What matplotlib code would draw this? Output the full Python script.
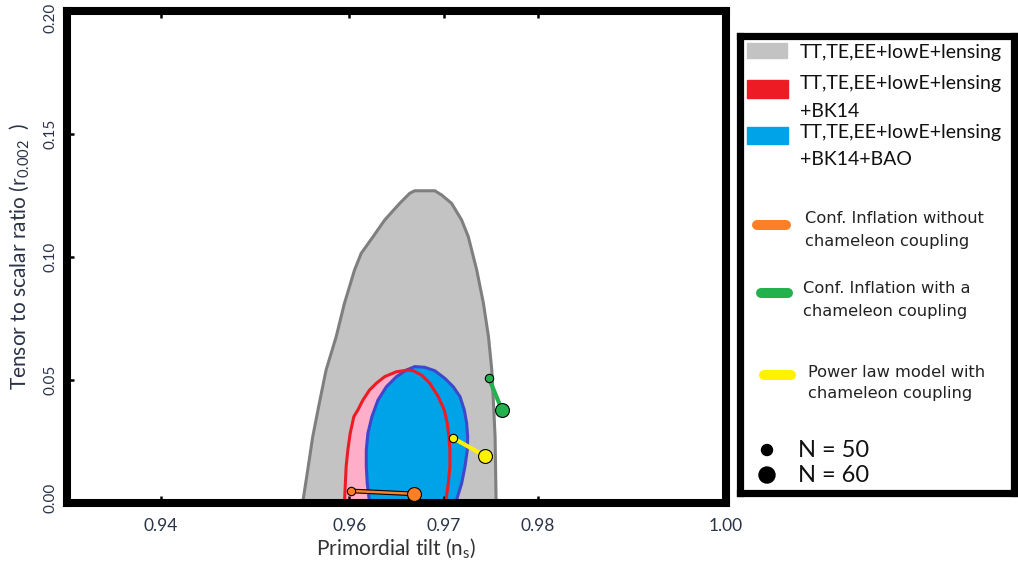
import matplotlib.pyplot as plt
import matplotlib.patheffects as pe
import matplotlib.transforms as mtransforms
from matplotlib.patches import Rectangle, Circle

plt.rcParams['font.family'] = ['Lato', 'DejaVu Sans']

# 68% / 95% contour outlines in the (n_s, r) plane
gray_ns = [0.95503, 0.95557, 0.9561, 0.9568, 0.95752, 0.95859, 0.95947, 0.96054,
           0.96125, 0.9625, 0.96374, 0.96534, 0.96641, 0.96694, 0.96907, 0.96979,
           0.97085, 0.97192, 0.97263, 0.97352, 0.97423, 0.97477, 0.97512, 0.9753,
           0.97547, 0.97558]
gray_r = [0.0, 0.0134, 0.0269, 0.0405, 0.0540, 0.0675, 0.0811, 0.0946,
          0.1014, 0.1081, 0.1149, 0.1217, 0.1258, 0.1268, 0.1268, 0.1251,
          0.1217, 0.1149, 0.1081, 0.0946, 0.0811, 0.0675, 0.0540, 0.0405,
          0.0269, 0.0]

red_ns = [0.95947, 0.95965, 0.95983, 0.96008, 0.96047, 0.9609, 0.96143, 0.96214,
          0.96285, 0.96374, 0.96499, 0.96623, 0.96677, 0.96765, 0.96854, 0.96943,
          0.97007, 0.97039, 0.97057, 0.97067, 0.97067, 0.9705, 0.97021]
red_r = [0.0, 0.0148, 0.0215, 0.0283, 0.0351, 0.0378, 0.0418, 0.0459,
         0.0486, 0.0513, 0.0533, 0.0540, 0.0537, 0.0520, 0.0486, 0.0432,
         0.0378, 0.0324, 0.0269, 0.0215, 0.0148, 0.0080, 0.0]

blue_ns = [0.96214, 0.96189, 0.96179, 0.96179, 0.96196, 0.96239, 0.96303, 0.96392,
           0.96499, 0.96605, 0.96694, 0.96801, 0.96907, 0.97014, 0.97103, 0.97174,
           0.9722, 0.97245, 0.97256, 0.97252, 0.97227, 0.97192, 0.97128]
blue_r = [0.0, 0.0080, 0.0148, 0.0215, 0.0283, 0.0351, 0.0418, 0.0472,
          0.0513, 0.0540, 0.0554, 0.0551, 0.0537, 0.0506, 0.0472, 0.0432,
          0.0378, 0.0324, 0.0269, 0.0215, 0.0148, 0.0080, 0.0]

# model predictions, N = 50 then N = 60
orange_ns = [0.9602, 0.9669]
orange_r = [0.0049, 0.0037]
green_ns = [0.9748, 0.9762]
green_r = [0.0508, 0.0378]
yellow_ns = [0.9710, 0.9744]
yellow_r = [0.0264, 0.0191]

xticks = [0.94, 0.96, 0.97, 0.98, 1.00]
yticks = [0.00, 0.05, 0.10, 0.15, 0.20]

GRAY, GRAY_EDGE = '#c3c3c3', '#7f7f7f'
PINK, RED = '#ffaec9', '#ed1c24'
BLUE, BLUE_EDGE = '#00a2e8', '#3f48cc'
ORANGE, GREEN, YELLOW = '#ff7f27', '#22b14c', '#fff200'
TXT = '#2a3348'

fig = plt.figure(figsize=(10.18, 5.69), dpi=100)
ax = fig.add_axes([0.0658, 0.116, 0.6474, 0.8655])

ax.fill(gray_ns, gray_r, color=GRAY, ec=GRAY_EDGE, lw=2.2)
ax.fill(red_ns, red_r, color=PINK, lw=0)
ax.fill(blue_ns, blue_r, color=BLUE, ec=BLUE_EDGE, lw=2.2)
ax.plot(red_ns, red_r, color=RED, lw=2.2)

outline = [pe.Stroke(linewidth=3.4, foreground='black'), pe.Normal()]
ax.plot(orange_ns, orange_r, color=ORANGE, lw=1.8, path_effects=outline, zorder=3)
ax.plot(green_ns, green_r, color=GREEN, lw=3, zorder=3)
ax.plot(yellow_ns, yellow_r, color=YELLOW, lw=3, zorder=3)
for ns, r, c in [(orange_ns, orange_r, ORANGE), (green_ns, green_r, GREEN),
                 (yellow_ns, yellow_r, YELLOW)]:
    ax.plot(ns[0], r[0], 'o', ms=6, mfc=c, mec='black', mew=0.8, zorder=4)
    ax.plot(ns[1], r[1], 'o', ms=10, mfc=c, mec='black', mew=0.8, zorder=4)

ax.set_xlim(0.93, 1.00)
ax.set_ylim(0.0, 0.20)
ax.set_xticks(xticks)
ax.set_xticklabels(['%.2f' % v for v in xticks])
ax.set_yticks(yticks)
ax.set_yticklabels(['%.2f' % v for v in yticks], rotation=90, va='center')
ax.tick_params(direction='in', length=5, width=1.8, color='black',
               labelcolor=TXT, top=True)
ax.tick_params(axis='x', labelsize=12.5, pad=11)
ax.tick_params(axis='y', labelsize=11, pad=7)
for s in ax.spines.values():
    s.set_linewidth(5.8)

# keep the end labels of the r axis inside the canvas
ylabs = ax.get_yticklabels()
ylabs[-1].set_transform(ylabs[-1].get_transform() +
                        mtransforms.ScaledTranslation(0, -5 / 72, fig.dpi_scale_trans))
ylabs[0].set_transform(ylabs[0].get_transform() +
                       mtransforms.ScaledTranslation(0, 4 / 72, fig.dpi_scale_trans))

ax.set_xlabel(r'Primordial tilt (n$_\mathregular{s}$)', fontsize=15,
              color='#333333', labelpad=2)
ax.set_ylabel(r'Tensor to scalar ratio (r$_\mathregular{0.002}$  )',
              fontsize=15, color=TXT, labelpad=8)

# legend panel drawn by hand, coordinates in pixels inside the box
lg = fig.add_axes([0.7274, 0.1344, 0.2682, 0.8032])
lg.set_xlim(0, 273)
lg.set_ylim(457, 0)
lg.set_xticks([])
lg.set_yticks([])
for s in lg.spines.values():
    s.set_linewidth(5.2)

lg.add_patch(Rectangle((6.5, 7.5), 40, 15, color=GRAY))
lg.add_patch(Rectangle((6.5, 44.5), 41, 18, color=RED))
lg.add_patch(Rectangle((6.5, 91.5), 41, 17, color=BLUE))
big = dict(fontsize=14, color='#111111', va='center', ha='left')
lg.text(59.5, 16.5, 'TT,TE,EE+lowE+lensing', **big)
lg.text(59.5, 47.5, 'TT,TE,EE+lowE+lensing', **big)
lg.text(59.5, 75.5, '+BK14', **big)
lg.text(59.5, 96.5, 'TT,TE,EE+lowE+lensing', **big)
lg.text(59.5, 123.5, '+BK14+BAO', **big)

small = dict(fontsize=11.7, color='#222222', va='center', ha='left',
             family=['DejaVu Sans'])
for (x0, x1, y), c in [((16.5, 45.5, 189.5), ORANGE), ((20.5, 47.5, 257.5), GREEN),
                       ((23.5, 50.5, 339.5), YELLOW)]:
    lg.plot([x0, x1], [y, y], color=c, lw=7.2, solid_capstyle='round')
lg.text(64.5, 182.5, 'Conf. Inflation without', **small)
lg.text(64.5, 205.5, 'chameleon coupling', **small)
lg.text(62.5, 252.5, 'Conf. Inflation with a', **small)
lg.text(62.5, 275.5, 'chameleon coupling', **small)
lg.text(67.5, 336.5, 'Power law model with', **small)
lg.text(67.5, 357.5, 'chameleon coupling', **small)

lg.add_patch(Circle((26.5, 414.5), 5.5, color='black'))
lg.add_patch(Circle((26.5, 439.5), 8, color='black'))
lg.text(57.5, 414.5, 'N = 50', fontsize=17, color='#111111', va='center')
lg.text(57.5, 439.5, 'N = 60', fontsize=17, color='#111111', va='center')

fig.savefig('out.png', dpi=100)
